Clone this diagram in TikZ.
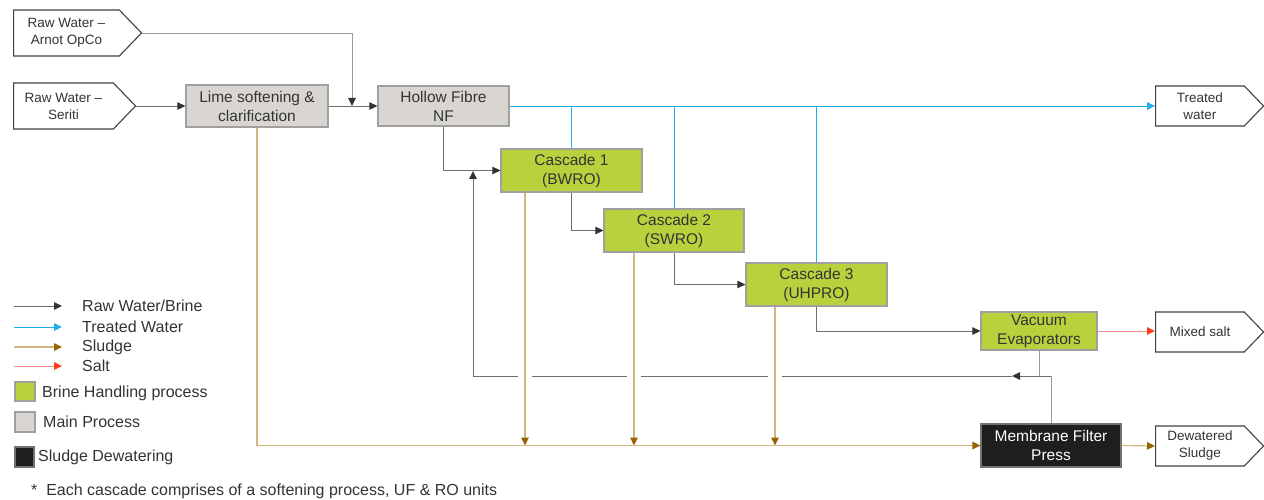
\documentclass[tikz,border=0pt]{standalone}
\usepackage{fontspec}
\setmainfont{Liberation Sans}
\usetikzlibrary{arrows.meta,shapes.symbols}
\definecolor{brinegreen}{RGB}{184,210,62}
\definecolor{maingrey}{RGB}{217,214,210}
\definecolor{boxedge}{RGB}{160,160,160}
\definecolor{pressblack}{RGB}{30,30,30}
\definecolor{rawline}{RGB}{110,110,110}
\definecolor{rawpale}{RGB}{155,155,155}
\definecolor{rawtip}{RGB}{50,50,50}
\definecolor{treatblue}{RGB}{30,175,235}
\definecolor{sludgeline}{RGB}{212,182,130}
\definecolor{sludgetip}{RGB}{150,100,0}
\definecolor{saltline}{RGB}{255,140,130}
\definecolor{salttip}{RGB}{255,60,30}
\begin{document}
\begin{tikzpicture}[x=1pt, y=-1pt,
    proc/.style={draw=boxedge, line width=1.2pt, fill=maingrey, inner sep=0pt, align=center, text=black!80, font=\fontsize{15.5}{19}\selectfont},
    brine/.style={proc, fill=brinegreen},
    press/.style={proc, fill=pressblack, draw=black!55, text=white},
    outlet/.style={signal, signal to=east, signal pointer angle=92, draw=black!75, line width=1.1pt, inner sep=0pt, align=center, text=black!80, font=\fontsize{13.5}{17}\selectfont},
    legend/.style={inner sep=0pt, text=black!80, font=\fontsize{16}{18}\selectfont},
    rawflow/.style={draw=rawline, line width=0.9pt, -{Triangle[length=8pt, width=7.5pt, color=rawtip]}},
    treatflow/.style={draw=treatblue, line width=0.9pt, -{Triangle[length=8pt, width=7.5pt, color=treatblue]}},
    sludgeflow/.style={draw=sludgeline, line width=1.2pt, -{Triangle[length=8pt, width=7.5pt, color=sludgetip]}},
    saltflow/.style={draw=saltline, line width=0.9pt, -{Triangle[length=8pt, width=7.5pt, color=salttip]}}]
    \useasboundingbox (0,0) rectangle (1264,500);

    \node[outlet, minimum width=128pt, minimum height=46pt, anchor=west] (arnot) at (13,33) {Raw Water –\\Arnot OpCo};
    \node[outlet, minimum width=122pt, minimum height=46pt, anchor=west] (seriti) at (13,106) {Raw Water –\\Seriti};
    \node[proc, minimum width=142pt, minimum height=42pt] (lime) at (257,106) {Lime softening \&\\clarification};
    \node[proc, minimum width=131pt, minimum height=40pt] (hf) at (443.5,106) {Hollow Fibre\\NF};
    \node[brine, minimum width=141pt, minimum height=43pt] (c1) at (571.5,170.5) {Cascade 1\\(BWRO)};
    \node[brine, minimum width=140pt, minimum height=43pt] (c2) at (674,230.5) {Cascade 2\\(SWRO)};
    \node[brine, minimum width=141pt, minimum height=43pt] (c3) at (816.5,284.5) {Cascade 3\\(UHPRO)};
    \node[brine, minimum width=116pt, minimum height=38pt] (vac) at (1039,331) {Vacuum\\Evaporators};
    \node[press, minimum width=140pt, minimum height=43pt] (mfp) at (1051,445.5) {Membrane Filter\\Press};
    \node[outlet, minimum width=108pt, minimum height=40pt, anchor=west] (treated) at (1155,106) {Treated\\water};
    \node[outlet, minimum width=108pt, minimum height=40pt, anchor=west] (salt) at (1155,332) {Mixed salt};
    \node[outlet, minimum width=108pt, minimum height=40pt, anchor=west] (dewatered) at (1155,446) {Dewatered\\Sludge};

    \coordinate (hfin) at (352,106);
    \coordinate (retarr) at (1012,376);
    \coordinate (c1in) at (473,171);

    \draw[rawflow] (seriti.east) -- (lime.west);
    \draw[rawflow] (lime.east) -- (hf.west);
    \draw[rawflow, draw=rawpale] (arnot.east) -| (hfin);
    \draw[rawflow] (hf.south) |- (c1.west);
    \draw[rawflow] (c1.south) |- (c2.west);
    \draw[rawflow] (c2.south) |- (c3.west);
    \draw[rawflow] (c3.south) |- (vac.west);
    \draw[rawflow, draw=rawpale, -] (vac.south) |- (mfp.north |- retarr) -- (mfp.north);
    \draw[rawflow] (mfp.north |- retarr) -- (retarr);
    \draw[rawflow] (retarr) -| (c1in);

    \draw[treatflow] (hf.east) -- (treated.west);
    \foreach \n in {c1,c2,c3}
        \draw[treatflow, -] (\n.north) -- (\n.north |- hf.east);

    \foreach \n/\dx in {c1/46.5, c2/40, c3/41.5} {
        \draw[white, line width=14pt] ([xshift=-\dx pt]\n.south |- retarr) ++(0,-3) -- ++(0,6);
        \draw[sludgeflow] ([xshift=-\dx pt]\n.south) -- ([xshift=-\dx pt]\n.south |- mfp.west);
    }
    \draw[sludgeflow] (lime.south) |- (mfp.west);
    \draw[sludgeflow] (mfp.east) -- (dewatered.west);
    \draw[saltflow] (vac.east) -- (vac.east -| salt.west);

    \node[legend, anchor=west] (lgraw) at (82,306) {Raw Water/Brine};
    \node[legend, anchor=west] (lgtreat) at (82,327) {Treated Water};
    \node[legend, anchor=west] (lgsludge) at (82,347) {Sludge};
    \node[legend, anchor=west] (lgsalt) at (82,366) {Salt};
    \draw[rawflow] ([xshift=-68pt]lgraw.west) -- ([xshift=-20pt]lgraw.west);
    \draw[treatflow] ([xshift=-68pt]lgtreat.west) -- ([xshift=-20pt]lgtreat.west);
    \draw[sludgeflow] ([xshift=-68pt]lgsludge.west) -- ([xshift=-20pt]lgsludge.west);
    \draw[saltflow] ([xshift=-68pt]lgsalt.west) -- ([xshift=-20pt]lgsalt.west);
    \node[brine, minimum width=20pt, minimum height=19pt] (keybrine) at (25,391.5) {};
    \node[legend, anchor=west] (lgbrine) at (42,393) {Brine Handling process};
    \node[proc, minimum width=20pt, minimum height=20pt] (keymain) at (25,422) {};
    \node[legend, anchor=west] (lgmain) at (43,422) {Main Process};
    \node[press, minimum width=19pt, minimum height=20pt] (keypress) at (24.5,457) {};
    \node[legend, anchor=west] (lgpress) at (38,457) {Sludge Dewatering};
    \node[legend, anchor=west] (note) at (31,491) {*\ \ Each cascade comprises of a softening process, UF \& RO units};
\end{tikzpicture}
\end{document}
